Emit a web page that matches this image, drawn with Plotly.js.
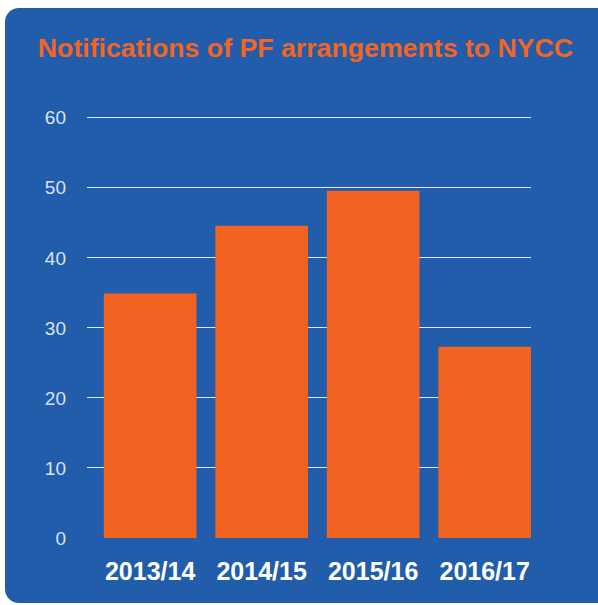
<!DOCTYPE html>
<html>
<head>
<meta charset="utf-8">
<script src="https://cdn.plot.ly/plotly-3.0.1.min.js"></script>
<style>
  html, body { margin: 0; padding: 0; background: #ffffff; overflow: hidden; }
  #card { position: absolute; left: 5px; top: 8px; width: 610px; height: 595px;
          background: #215DAA; border-radius: 14px; }
  #chart { position: absolute; left: 0; top: 0; width: 598px; height: 605px; }
</style>
</head>
<body>
<div id="card"></div>
<div id="chart"></div>
<script>
const categories = ["2013/14", "2014/15", "2015/16", "2016/17"];
const notifications = [34.9, 44.6, 49.6, 27.3];
const yTicks = [0, 10, 20, 30, 40, 50, 60];
const chartTitle = "Notifications of PF arrangements to NYCC";

const trace = {
  type: "bar",
  x: categories,
  y: notifications,
  marker: { color: "#F26322", line: { width: 0 } },
  hoverinfo: "x+y"
};

const layout = {
  width: 598,
  height: 605,
  paper_bgcolor: "rgba(0,0,0,0)",
  plot_bgcolor: "rgba(0,0,0,0)",
  margin: { l: 86.5, r: 66.5, t: 115.2, b: 66.5, pad: 0 },
  showlegend: false,
  bargap: 0.169,
  title: {
    text: "<b>" + chartTitle + "</b>",
    font: { family: "Liberation Sans, Arial, sans-serif", size: 26.7, color: "#F26522" },
    xref: "container", x: 305.5 / 598, xanchor: "center",
    yref: "container", y: 1 - 48 / 605, yanchor: "middle"
  },
  xaxis: {
    type: "category",
    range: [-0.566, 3.4155],
    showgrid: false,
    zeroline: false,
    showline: false,
    ticks: "",
    tickfont: { family: "Liberation Sans, Arial, sans-serif", size: 25, color: "#ffffff", weight: "bold" },
    ticklabelstandoff: 16,
    fixedrange: true
  },
  yaxis: {
    range: [0, 60.4],
    tickvals: yTicks,
    ticktext: yTicks.map(String),
    showgrid: true,
    gridcolor: "#E6EDF7",
    gridwidth: 1,
    zeroline: true,
    zerolinecolor: "rgba(0,0,0,0)",
    showline: false,
    ticks: "",
    tickfont: { family: "Liberation Sans, Arial, sans-serif", size: 19, color: "#DCE4F0" },
    ticklabelstandoff: 20,
    fixedrange: true
  }
};

Plotly.newPlot("chart", [trace], layout, { displayModeBar: false, staticPlot: true });
</script>
</body>
</html>
